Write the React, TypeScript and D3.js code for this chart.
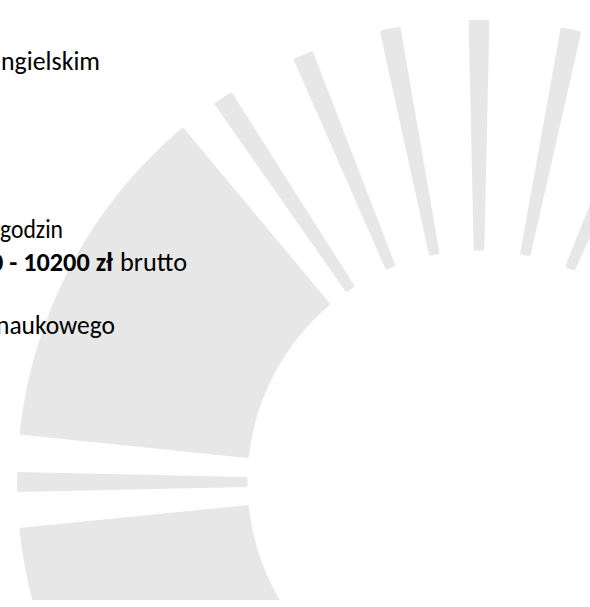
import * as React from 'react';
import * as d3 from 'd3';

// visible text fragments (left side is cut off in the source)
const lines = ['ngielskim', 'godzin', '0 - 10200 zł', 'brutto', 'naukowego'];
const lineX = [1, 0, -10, 120, -4];
const lineY = [70, 238, 270.5, 270.5, 333.5];
const lineWidth = [99, 63, 123, 67, 119];
const lineBold = [false, false, true, false, false];

// sunburst wedges, angles in degrees (0 = up, clockwise)
const wedgeStart = [-140, -91.25, -84.1, -35.0, -23.7, -12.4, -1.3, 10.2, 21.8];
const wedgeEnd = [-95.7, -88.75, -39.85, -32.4, -21.1, -9.8, 1.3, 12.8, 24.4];
const wedgeOuter = [462, 462, 462, 462, 462, 462, 462, 462, 462];

const W = 590;
const H = 607;
const cx = 479;
const cy = 482;
const inner = 231.5;

export default function App() {
  const ref = React.useRef<SVGSVGElement>(null);

  React.useEffect(() => {
    const svg = d3.select(ref.current);
    svg.selectAll('*').remove();

    svg.append('rect').attr('width', W).attr('height', H).attr('fill', '#fff');

    svg.append('clipPath').attr('id', 'clip')
      .append('rect').attr('width', W).attr('height', 600);

    const rad = d3.scaleLinear().domain([0, 180]).range([0, Math.PI]);
    const arc = d3.arc<any>()
      .innerRadius(inner)
      .outerRadius(d => d.outer)
      .startAngle(d => rad(d.start))
      .endAngle(d => rad(d.end))
      .cornerRadius(2);

    const wedges = wedgeStart.map((s, i) => ({ start: s, end: wedgeEnd[i], outer: wedgeOuter[i] }));

    svg.append('g')
      .attr('clip-path', 'url(#clip)')
      .append('g')
      .attr('transform', `translate(${cx},${cy})`)
      .selectAll('path')
      .data(wedges)
      .enter()
      .append('path')
      .attr('d', arc)
      .attr('fill', '#e7e7e7');

    svg.append('g')
      .attr('font-family', 'Carlito, Calibri, Lato, sans-serif')
      .attr('font-size', 26)
      .attr('fill', '#000')
      .selectAll('text')
      .data(lines)
      .enter()
      .append('text')
      .attr('x', (d, i) => lineX[i])
      .attr('y', (d, i) => lineY[i])
      .attr('font-weight', (d, i) => lineBold[i] ? 'bold' : 'normal')
      .attr('textLength', (d, i) => lineWidth[i])
      .attr('lengthAdjust', 'spacingAndGlyphs')
      .text(d => d);
  }, []);

  return (
    <svg ref={ref} width={W} height={H}
      style={{ position: 'absolute', left: 0, top: 0, display: 'block' }} />
  );
}
